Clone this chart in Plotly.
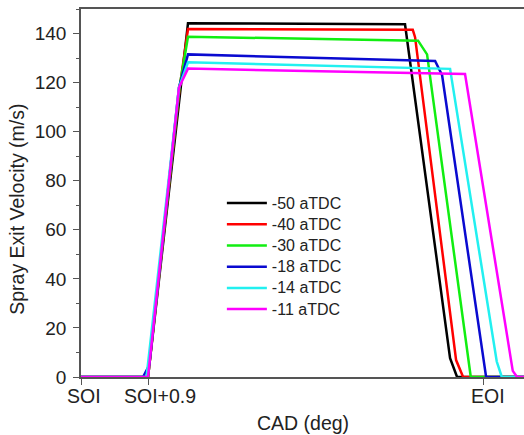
import plotly.graph_objects as go

# ---- data (x in CAD units relative to SOI; SOI=0, SOI+0.9=0.9, EOI≈5.41) ----
series_names = ["-50 aTDC", "-40 aTDC", "-30 aTDC", "-18 aTDC", "-14 aTDC", "-11 aTDC"]
series_colors = ["#000000", "#ff0000", "#11ee11", "#0a0ad0", "#22f0f0", "#ff00ff"]

x_m50 = [0, 0.90, 1.437, 4.352, 4.957, 5.051, 5.95]
y_m50 = [0, 0, 144.2, 143.8, 7.7, 0, 0]

x_m40 = [0, 0.90, 1.33, 1.437, 4.456, 4.487, 5.038, 5.132, 5.95]
y_m40 = [0, 0, 119, 141.8, 141.5, 138.5, 6.9, 0, 0]

x_m30 = [0, 0.90, 1.325, 1.437, 4.527, 4.648, 5.235, 5.95]
y_m30 = [0, 0, 118.5, 138.7, 137.1, 131.5, 0, 0]

x_m18 = [0, 0.833, 0.917, 1.316, 1.437, 4.756, 4.850, 5.441, 5.95]
y_m18 = [0, 0, 4.9, 118, 131.5, 128.8, 123.0, 0, 0]

x_m14 = [0, 0.88, 1.316, 1.437, 4.957, 5.584, 5.652, 5.95]
y_m14 = [0, 0, 118, 128.3, 125.6, 6.3, 0, 0]

x_m11 = [0, 0.90, 1.316, 1.437, 5.158, 5.799, 5.857, 5.95]
y_m11 = [0, 0, 118, 125.7, 123.5, 2.5, 0, 0]

xs = [x_m50, x_m40, x_m30, x_m18, x_m14, x_m11]
ys = [y_m50, y_m40, y_m30, y_m18, y_m14, y_m11]

tick_vals = [0, 0.9, 5.41]
tick_text = ["SOI", "SOI+0.9", "EOI"]
tick_label_shift = [3, 12, 4]   # px offsets of the labels as printed in the original

fig = go.Figure()
for name, color, x, y in zip(series_names, series_colors, xs, ys):
    fig.add_trace(go.Scatter(x=x, y=y, mode="lines",
                             name=f"<span style='font-size:16px'>{name}</span>",
                             line=dict(color=color, width=2.5)))

font_family = "Liberation Sans, Arial, sans-serif"
axis_color = "#555555"
text_color = "#222222"

# x tick labels (as text annotations, offset as in the original)
for v, t, s in zip(tick_vals, tick_text, tick_label_shift):
    fig.add_annotation(x=v, xref="x", y=0, yref="paper", text=t, showarrow=False,
                       xanchor="center", yanchor="top", xshift=s, yshift=-6,
                       font=dict(size=19.5, color=text_color))

# axis titles
fig.add_annotation(x=0.5, xref="paper", y=-0.125, yref="paper", text="CAD (deg)",
                   showarrow=False, xanchor="center", yanchor="middle",
                   font=dict(size=19.5, color=text_color))
fig.add_annotation(x=-0.1445, xref="paper", y=0.457, yref="paper",
                   text="Spray Exit Velocity (m/s)", textangle=-90,
                   showarrow=False, xanchor="center", yanchor="middle",
                   font=dict(size=19.5, color=text_color))

fig.update_layout(
    width=524, height=435,
    margin=dict(l=81, r=0, t=9, b=58),
    paper_bgcolor="white", plot_bgcolor="white",
    font=dict(family=font_family, size=16, color=text_color),
    showlegend=True,
    legend=dict(x=0.318, y=0.515, xanchor="left", yanchor="top",
                bgcolor="rgba(0,0,0,0)", font=dict(size=14, color=text_color),
                tracegroupgap=0, itemwidth=40),
    xaxis=dict(range=[0, 5.95], tickvals=tick_vals, ticktext=["", "", ""],
               showgrid=False, zeroline=False, showline=True, linecolor=axis_color,
               linewidth=1.5, mirror=True, ticks="outside", ticklen=6,
               tickcolor=axis_color, tickwidth=1.2),
    yaxis=dict(range=[0, 150], tickvals=[0, 20, 40, 60, 80, 100, 120, 140],
               showgrid=False, zeroline=False, showline=True, linecolor=axis_color,
               linewidth=1.5, ticks="outside", ticklen=6, tickcolor=axis_color,
               tickwidth=1.2, tickfont=dict(size=19), ticklabelstandoff=3,
               minor=dict(tickvals=[10, 30, 50, 70, 90, 110, 130, 150],
                          ticks="outside", ticklen=3, tickcolor=axis_color)),
)

fig.write_html("out.html")
